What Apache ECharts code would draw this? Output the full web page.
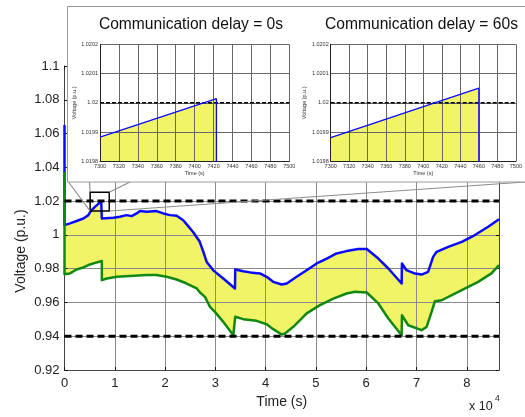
<!DOCTYPE html>
<html>
<head>
<meta charset="utf-8">
<script src="https://cdn.jsdelivr.net/npm/echarts@6/dist/echarts.min.js"></script>
<style>
  html, body { margin: 0; padding: 0; background: #fff; }
  #chart { width: 525px; height: 417px; }
</style>
</head>
<body>
<div id="chart"></div>
<script>
// Upper envelope (blue) of feeder voltage over one day: [time s, voltage p.u.]
const upperVoltage = [
  [0, 1.065], [0, 1.0058], [1100, 1.0068], [2400, 1.0082], [3750, 1.0097],
  [4750, 1.0117], [5200, 1.0141], [6050, 1.0166], [7300, 1.01988], [7423, 1.02001],
  [7423, 1.0097], [7700, 1.0103], [9700, 1.0101], [11000, 1.0107], [12350, 1.0117],
  [13350, 1.0111], [14350, 1.0127], [15000, 1.0141], [16350, 1.0137], [18300, 1.0141],
  [19650, 1.0127], [21000, 1.0117], [22300, 1.0113], [23600, 1.0087], [24600, 1.0052],
  [25600, 1.0016], [26900, 0.9959], [27600, 0.9900], [28270, 0.9840], [29580, 0.9790],
  [31570, 0.9742], [33900, 0.9683], [33950, 0.9795], [35550, 0.9785], [36900, 0.9778],
  [38870, 0.9772], [40200, 0.9752], [41500, 0.9722], [43200, 0.9706], [44200, 0.9712],
  [46150, 0.9752], [48150, 0.9791], [50150, 0.9831], [52150, 0.9860], [54100, 0.9890],
  [56100, 0.9904], [58400, 0.9916], [60100, 0.9916], [62400, 0.9860], [64400, 0.9801],
  [67040, 0.9712], [67100, 0.9831], [68000, 0.9791], [69700, 0.9771], [71000, 0.9765],
  [72300, 0.9781], [73300, 0.9870], [74000, 0.9900], [76300, 0.9929], [79000, 0.9959],
  [81600, 0.9999], [84250, 1.0048], [86400, 1.0093]
];

// Lower envelope (green)
const lowerVoltage = [
  [0, 1.0374], [0, 0.9767], [1000, 0.9771], [2400, 0.9795], [3750, 0.9807],
  [5070, 0.9825], [6400, 0.9837], [7423, 0.9845], [7423, 0.9732], [8400, 0.9742],
  [10400, 0.9752], [13000, 0.9756], [16350, 0.9762], [18300, 0.9762], [20300, 0.9752],
  [22300, 0.9736], [24300, 0.9712], [26300, 0.9683], [26940, 0.9659], [27930, 0.9633],
  [28270, 0.9613], [28930, 0.9574], [29920, 0.9544], [31570, 0.9485], [33560, 0.9406],
  [33900, 0.9400], [33950, 0.9515], [35550, 0.9501], [38200, 0.9491], [40200, 0.9471],
  [41500, 0.9442], [43200, 0.9410], [43850, 0.9416], [45500, 0.9456], [48150, 0.9535],
  [50800, 0.9584], [53450, 0.9623], [56100, 0.9653], [57750, 0.9663], [60100, 0.9659],
  [62400, 0.9594], [64400, 0.9505], [67040, 0.9406], [67100, 0.9524], [68350, 0.9465],
  [71000, 0.9436], [72000, 0.9455], [73000, 0.9544], [73650, 0.9607], [75000, 0.9613],
  [78300, 0.9663], [82250, 0.9722], [84900, 0.9772], [86400, 0.9821]
];

// Statutory voltage limits (p.u.)
const voltageLimits = [1.02, 0.94];

// Zoomed window around the first upper-limit crossing
const focusTime = [5100, 8900];
const focusVolt = [1.0141, 1.0253];

// Close-ups of the crossing for two communication delays
const delay0s = [[7300, 1.019883], [7423, 1.020014], [7423, 1.0097]];
const delay60s = [[7300, 1.019881], [7460, 1.02005], [7460, 1.0097]];
const insetTitles = ['Communication delay = 0s', 'Communication delay = 60s'];

const BLUE = '#0a0aff';
const GREEN = '#118811';
const YELLOW = '#f0f466';
const dayEnd = 86400;

const chart = echarts.init(document.getElementById('chart'), null, { renderer: 'canvas' });

const mainGrid = { left: 64.5, top: 66, right: 26, bottom: 47 };
const insetGrids = [
  { left: 100, top: 44.3, width: 189.3, height: 117 },
  { left: 330.7, top: 44.3, width: 190, height: 117 }
];
const box = { x: 67.5, y: 6.5, w: 470, h: 175.5 };

const fmt2 = v => String(parseFloat(v.toFixed(2)));
const fmt4 = v => String(parseFloat(v.toFixed(4)));

function insetX(gridIndex) {
  return {
    type: 'value', gridIndex, min: 7300, max: 7500, interval: 20, z: 7,
    name: 'Time (s)', nameLocation: 'middle', nameGap: 8,
    nameTextStyle: { fontSize: 5.5, color: '#333', fontFamily: 'Liberation Sans' },
    axisLine: { show: true, lineStyle: { color: '#222', width: 1 } },
    axisTick: { show: false },
    axisLabel: { fontSize: 5.5, color: '#333', margin: 2, fontFamily: 'Liberation Sans',
      formatter: v => String(Math.round(v)) },
    splitLine: { show: true, lineStyle: { color: '#666', width: 1 } }
  };
}
function insetY(gridIndex) {
  return {
    type: 'value', gridIndex, min: 1.0198, max: 1.0202, interval: 0.0001, z: 7,
    name: 'Voltage (p.u.)', nameLocation: 'middle', nameGap: 22,
    nameTextStyle: { fontSize: 5.5, color: '#333', fontFamily: 'Liberation Sans' },
    axisLine: { show: true, lineStyle: { color: '#222', width: 1 } },
    axisTick: { show: false },
    axisLabel: { fontSize: 5.5, color: '#333', margin: 2, formatter: fmt4, fontFamily: 'Liberation Sans' },
    splitLine: { show: true, lineStyle: { color: '#666', width: 1 } }
  };
}

function insetSeries(idx, data) {
  return [
    {
      type: 'line', xAxisIndex: 2 + idx, yAxisIndex: 2 + idx, data, z: 6,
      showSymbol: false, silent: true, clip: true,
      lineStyle: { width: 0 },
      areaStyle: { color: YELLOW, opacity: 1, origin: 'start' }
    },
    {
      type: 'line', xAxisIndex: 2 + idx, yAxisIndex: 2 + idx, z: 8,
      data: [[7300, voltageLimits[0]], [7500, voltageLimits[0]]],
      showSymbol: false, silent: true,
      lineStyle: { color: '#000', width: 1.4, type: [4, 2] }
    },
    {
      type: 'line', xAxisIndex: 2 + idx, yAxisIndex: 2 + idx, data, z: 9,
      showSymbol: false, silent: true, clip: true,
      lineStyle: { color: BLUE, width: 1.3 }
    }
  ];
}

const mainTick = { show: true, inside: true, length: 3, lineStyle: { color: '#111', width: 1 } };

chart.setOption({
  animation: false,
  backgroundColor: '#fff',
  grid: [mainGrid, insetGrids[0], insetGrids[1]],
  xAxis: [
    {
      type: 'value', gridIndex: 0, min: 0, max: dayEnd, interval: 10000, z: 2,
      name: 'Time (s)', nameLocation: 'middle', nameGap: 22,
      nameTextStyle: { fontSize: 14, color: '#222', fontFamily: 'Liberation Sans' },
      axisLine: { show: true, onZero: false, lineStyle: { color: '#444', width: 1 } },
      axisTick: mainTick,
      axisLabel: { fontSize: 13, color: '#222', margin: 7, showMaxLabel: false,
        fontFamily: 'Liberation Sans', formatter: v => String(Math.round(v / 10000)) },
      splitLine: { show: true, lineStyle: { color: '#8a8a8a', width: 1 } }
    },
    {
      type: 'value', gridIndex: 0, position: 'top', min: 0, max: dayEnd, interval: 10000, z: 2,
      axisLine: { show: true, onZero: false, lineStyle: { color: '#444', width: 1 } },
      axisTick: mainTick, axisLabel: { show: false }, splitLine: { show: false }
    },
    insetX(1), insetX(2)
  ],
  yAxis: [
    {
      type: 'value', gridIndex: 0, min: 0.92, max: 1.1, interval: 0.02, z: 2,
      axisLine: { show: true, onZero: false, lineStyle: { color: '#444', width: 1 } },
      axisTick: mainTick,
      axisLabel: { fontSize: 13, color: '#222', margin: 5, formatter: fmt2, fontFamily: 'Liberation Sans' },
      splitLine: { show: true, lineStyle: { color: '#8a8a8a', width: 1 } }
    },
    {
      type: 'value', gridIndex: 0, position: 'right', min: 0.92, max: 1.1, interval: 0.02, z: 2,
      axisLine: { show: true, onZero: false, lineStyle: { color: '#444', width: 1 } },
      axisTick: mainTick, axisLabel: { show: false }, splitLine: { show: false }
    },
    insetY(1), insetY(2)
  ],
  series: [
    {
      // band between the two envelopes
      type: 'custom', xAxisIndex: 0, yAxisIndex: 0, z: 1, silent: true,
      data: [[0, 1]],
      renderItem: (params, api) => {
        const pts = upperVoltage.map(p => api.coord(p))
          .concat(lowerVoltage.slice().reverse().map(p => api.coord(p)));
        return { type: 'polygon', shape: { points: pts }, style: { fill: YELLOW } };
      }
    },
    {
      type: 'line', xAxisIndex: 0, yAxisIndex: 0, data: upperVoltage, z: 3,
      showSymbol: false, silent: true,
      lineStyle: { color: BLUE, width: 2.5, join: 'round' }
    },
    {
      type: 'line', xAxisIndex: 0, yAxisIndex: 0, data: lowerVoltage, z: 3,
      showSymbol: false, silent: true,
      lineStyle: { color: GREEN, width: 2.5, join: 'round' }
    },
    ...voltageLimits.map(v => ({
      type: 'line', xAxisIndex: 0, yAxisIndex: 0, z: 3,
      data: [[0, v], [dayEnd, v]], showSymbol: false, silent: true,
      lineStyle: { color: '#000', width: 3, type: [7, 4] }
    })),
    {
      // zoom window outline
      type: 'custom', xAxisIndex: 0, yAxisIndex: 0, z: 4, silent: true,
      data: [[focusTime[0], focusVolt[0]]],
      renderItem: (params, api) => {
        const a = api.coord([focusTime[0], focusVolt[1]]);
        const b = api.coord([focusTime[1], focusVolt[0]]);
        return { type: 'rect', shape: { x: a[0], y: a[1], width: b[0] - a[0], height: b[1] - a[1] },
          style: { fill: 'none', stroke: '#000', lineWidth: 1.5 } };
      }
    },
    ...insetSeries(0, delay0s),
    ...insetSeries(1, delay60s)
  ]
});

// Decorations: close-up panel, connector lines, titles and axis captions
const px = (t, v) => chart.convertToPixel({ gridIndex: 0 }, [t, v]);
const tl = px(focusTime[0], focusVolt[1]);
const tr = px(focusTime[1], focusVolt[1]);
const bl = px(focusTime[0], focusVolt[0]);
const br = px(focusTime[1], focusVolt[0]);
const boxBottom = box.y + box.h;
const connector = (a, b) => ({
  type: 'line', z: 4, silent: true,
  shape: { x1: a[0], y1: a[1], x2: b[0], y2: b[1] },
  style: { stroke: '#8c8c8c', lineWidth: 1.1 }
});
const textEl = (text, x, y, size, extra) => ({
  type: 'text', x, y, z: 10, silent: true,
  style: Object.assign({ text, fontSize: size, fontFamily: 'Liberation Sans', fill: '#222',
    align: 'center', verticalAlign: 'middle' }, extra || {})
});

chart.setOption({
  graphic: [
    connector(bl, [box.x + 1, boxBottom]),
    connector(tl, [89.5, boxBottom]),
    connector(tr, [130, boxBottom]),
    connector(br, [525, boxBottom]),
    {
      type: 'rect', z: 5, silent: true,
      shape: { x: box.x, y: box.y, width: box.w, height: box.h },
      style: { fill: '#fff', stroke: '#9a9a9a', lineWidth: 1 }
    },
    textEl(insetTitles[0], 191, 25, 15.6, { fill: '#111' }),
    textEl(insetTitles[1], 421.5, 25, 15.6, { fill: '#111' }),
    Object.assign(textEl('Voltage (p.u.)', 21, 251, 14), { rotation: Math.PI / 2 }),
    textEl('x 10', 469, 406.5, 12.5, { align: 'left' }),
    textEl('4', 495, 399, 8.5, { align: 'left' })
  ]
});
</script>
</body>
</html>
